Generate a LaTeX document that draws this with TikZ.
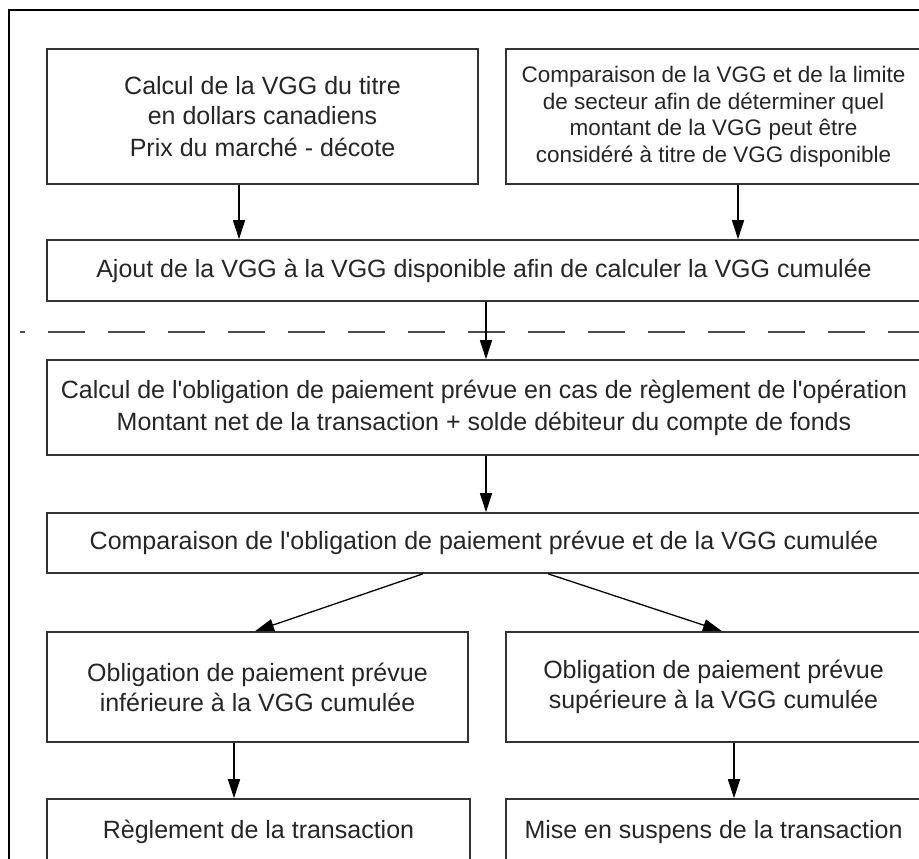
\documentclass[tikz,border=0pt]{standalone}
\usepackage{fontspec}
\setmainfont{Liberation Sans}
\usetikzlibrary{arrows.meta}
\begin{document}
\begin{tikzpicture}[x=1pt,y=-1pt,
  box/.style={draw=black!80, line width=1.6pt, inner sep=0pt, align=center,
    font=\fontsize{25}{30}\selectfont, text=black!85},
  smallbox/.style={box, font=\fontsize{22.5}{26.5}\selectfont},
  arr/.style={draw=black, line width=1.3pt, -{Triangle[width=12pt,length=19pt]}},
  sep/.style={draw=black!70, line width=2pt, dash pattern=on 37pt off 23pt, dash phase=32pt},
  frame/.style={draw=black, line width=1.2pt}]
\useasboundingbox (0,0) rectangle (919,859);
\clip (0,0) rectangle (919,859);
\fill[white] (0,0) rectangle (919,859);
\draw[frame] (9,10) rectangle (940,880);

\node[box, minimum width=431pt, minimum height=135pt] (b1) at (262.5,116.5)
  {Calcul de la VGG du titre\\en dollars canadiens\\[2pt]Prix du marché - décote};
\node[smallbox, minimum width=415pt, minimum height=135pt] (b2) at (713.5,116.5)
  {Comparaison de la VGG et de la limite\\de secteur afin de déterminer quel\\montant de la VGG peut être\\considéré à titre de VGG disponible};
\node[box, minimum width=874pt, minimum height=61pt] (b3) at (484,270.5)
  {Ajout de la VGG à la VGG disponible afin de calculer la VGG cumulée};
\node[box, minimum width=874pt, minimum height=95pt] (b4) at (484,407.5)
  {Calcul de l\textquotesingle obligation de paiement prévue en cas de règlement de l\textquotesingle opération\\[2pt]Montant net de la transaction + solde débiteur du compte de fonds};
\node[box, minimum width=874pt, minimum height=60pt] (b5) at (484,543)
  {Comparaison de l\textquotesingle obligation de paiement prévue et de la VGG cumulée};
\node[box, minimum width=421pt, minimum height=110pt] (b6a) at (257.5,687)
  {Obligation de paiement prévue\\inférieure à la VGG cumulée};
\node[box, minimum width=415pt, minimum height=110pt] (b6b) at (713.5,687)
  {Obligation de paiement prévue\\supérieure à la VGG cumulée};
\node[box, minimum width=423pt, minimum height=66pt] (b7a) at (258.5,832)
  {Règlement de la transaction};
\node[box, minimum width=415pt, minimum height=66pt] (b7b) at (713.5,832)
  {Mise en suspens de la transaction};

\draw[sep] (20,332) -- (940,332);

\coordinate (xa) at (239,0);
\coordinate (xb) at (738,0);
\coordinate (xc) at (486,0);
\coordinate (dl1) at (423,0);
\coordinate (dl2) at (255,0);
\coordinate (dr1) at (548,0);
\coordinate (dr2) at (722,0);
\coordinate (xd) at (234,0);
\coordinate (xe) at (734,0);

\draw[arr] (b1.south -| xa) -- (b3.north -| xa);
\draw[arr] (b2.south -| xb) -- (b3.north -| xb);
\draw[arr] (b3.south -| xc) -- (b4.north -| xc);
\draw[arr] (b4.south -| xc) -- (b5.north -| xc);
\draw[arr] (b5.south -| dl1) -- (b6a.north -| dl2);
\draw[arr] (b5.south -| dr1) -- (b6b.north -| dr2);
\draw[arr] (b6a.south -| xd) -- (b7a.north -| xd);
\draw[arr] (b6b.south -| xe) -- (b7b.north -| xe);
\end{tikzpicture}
\end{document}
